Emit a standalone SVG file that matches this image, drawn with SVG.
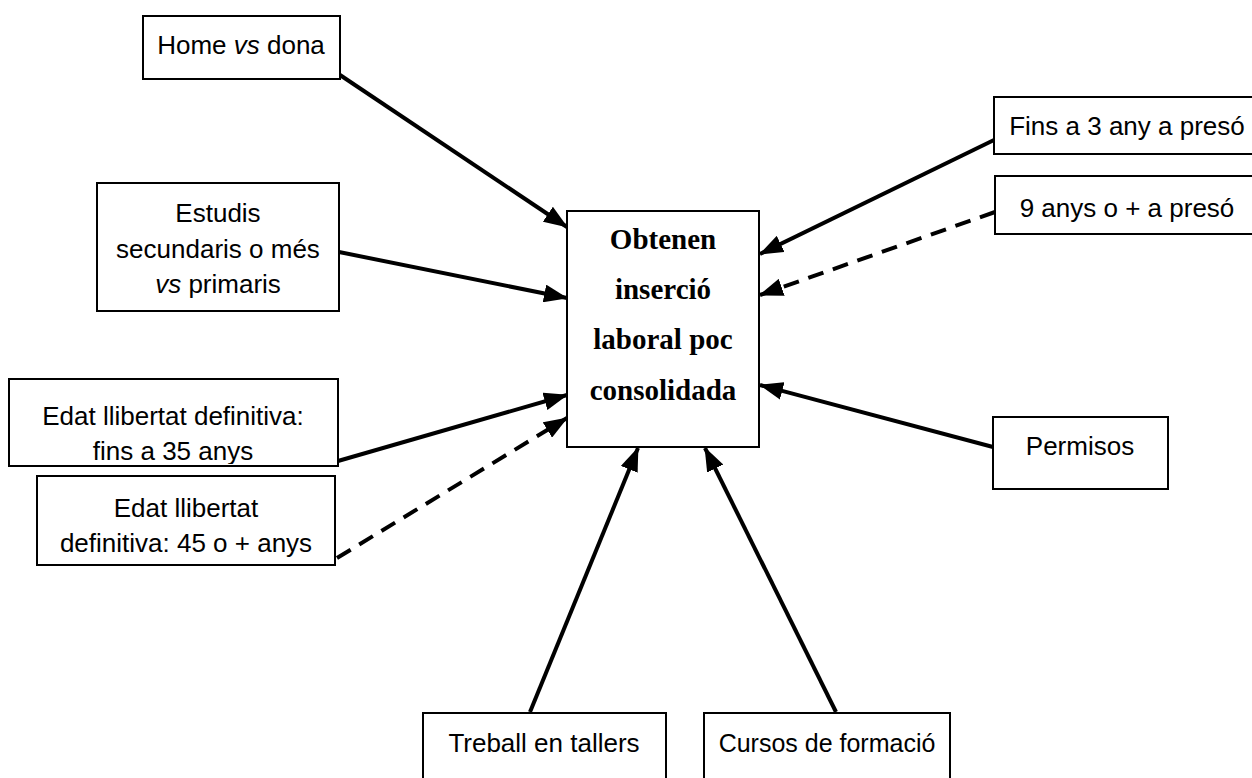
<svg xmlns="http://www.w3.org/2000/svg" width="1252" height="778" viewBox="0 0 1252 778">
<style>
.box{fill:#fff;stroke:#000;stroke-width:2}
.t{font-family:"Liberation Sans",Arial,sans-serif;font-size:26px;fill:#000;text-anchor:middle}
.c{font-family:"Liberation Serif","Times New Roman",serif;font-size:29px;font-weight:bold;fill:#000;text-anchor:middle}
.ln{fill:none;stroke:#000;stroke-width:4;marker-end:url(#ah)}
.dash{stroke-dasharray:16 10}
</style>
<defs>
<marker id="ah" markerUnits="userSpaceOnUse" markerWidth="24" markerHeight="18" refX="23" refY="9" orient="auto">
<path d="M0,0 L24,9 L0,18 Z" fill="#000" stroke="none"/>
</marker>
<clipPath id="clip35"><rect x="9" y="379" width="329" height="85"/></clipPath>
</defs>
<g id="connectors">
<line class="ln" x1="340" y1="75" x2="567" y2="227"/>
<line class="ln" x1="339" y1="252" x2="567" y2="298"/>
<line class="ln" x1="338" y1="461" x2="567" y2="395"/>
<line class="ln dash" x1="337" y1="558" x2="567" y2="418"/>
<line class="ln" x1="994" y1="140" x2="760" y2="254"/>
<line class="ln dash" x1="995" y1="212" x2="760" y2="295"/>
<line class="ln" x1="993" y1="447" x2="760" y2="385"/>
<line class="ln" x1="530" y1="712" x2="638" y2="448"/>
<line class="ln" x1="836" y1="712" x2="705" y2="448"/>
</g>
<g id="center">
<rect class="box" x="567" y="211" width="192" height="236"/>
<text class="c" x="663" y="249">Obtenen</text>
<text class="c" x="663" y="299">inserció</text>
<text class="c" x="663" y="349">laboral poc</text>
<text class="c" x="663" y="400">consolidada</text>
</g>
<g id="home">
<rect class="box" x="143" y="16" width="197" height="63"/>
<text class="t" x="241" y="54">Home <tspan font-style="italic">vs</tspan> dona</text>
</g>
<g id="estudis">
<rect class="box" x="97" y="183" width="242" height="128"/>
<text class="t" x="218" y="222">Estudis</text>
<text class="t" x="218" y="258">secundaris o més</text>
<text class="t" x="218" y="293"><tspan font-style="italic">vs</tspan> primaris</text>
</g>
<g id="edat35">
<rect class="box" x="9" y="379" width="329" height="87"/>
<g clip-path="url(#clip35)">
<text class="t" x="173" y="425">Edat llibertat definitiva:</text>
<text class="t" x="173" y="460">fins a 35 anys</text>
</g>
</g>
<g id="edat45">
<rect class="box" x="37" y="476" width="298" height="89"/>
<text class="t" x="186" y="517">Edat llibertat</text>
<text class="t" x="186" y="552">definitiva: 45 o + anys</text>
</g>
<g id="fins3">
<rect class="box" x="994" y="97" width="270" height="57"/>
<text class="t" x="1127" y="135">Fins a 3 any a presó</text>
</g>
<g id="anys9">
<rect class="box" x="995" y="176" width="270" height="58"/>
<text class="t" x="1127" y="217">9 anys o + a presó</text>
</g>
<g id="permisos">
<rect class="box" x="993" y="417" width="175" height="72"/>
<text class="t" x="1080" y="455">Permisos</text>
</g>
<g id="treball">
<rect class="box" x="423" y="713" width="243" height="80"/>
<text class="t" x="544" y="752">Treball en tallers</text>
</g>
<g id="cursos">
<rect class="box" x="704" y="713" width="246" height="80"/>
<text class="t" x="827" y="752" style="font-size:25px">Cursos de formació</text>
</g>
</svg>
